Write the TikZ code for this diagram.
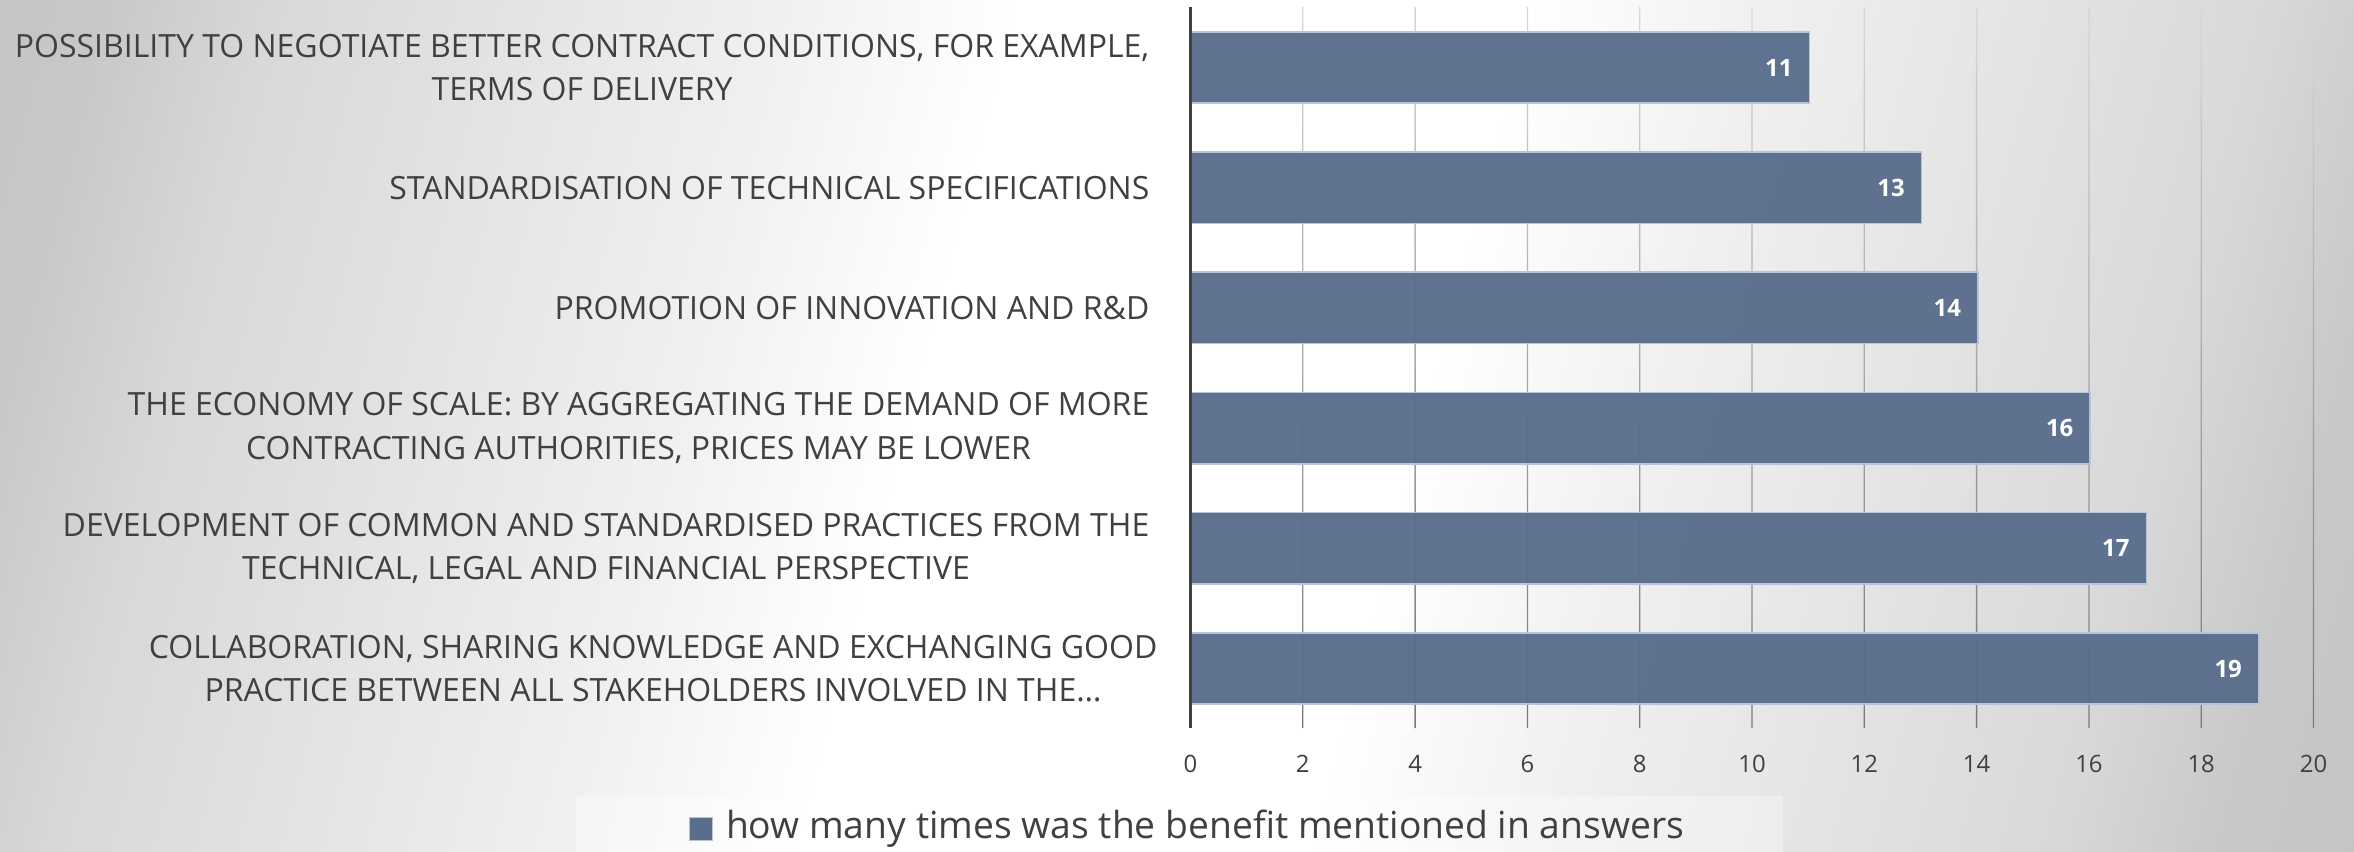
\documentclass[tikz,border=0pt]{standalone}
\usepackage{fontspec}
\setmainfont{Open Sans}
\usetikzlibrary{positioning}
\definecolor{barblue}{RGB}{89,110,140}
\definecolor{barrim}{RGB}{184,196,212}
\definecolor{labgray}{RGB}{64,64,64}
\definecolor{gridtop}{RGB}{215,215,215}
\definecolor{gridbot}{RGB}{120,120,120}
\definecolor{bgA}{gray}{0.94}
\definecolor{bgB}{gray}{0.847}
\definecolor{bgC}{gray}{0.784}
\definecolor{bgD}{gray}{0.77}
\pgfdeclarehorizontalshading{bgband}{100bp}{color(0bp)=(bgD); color(28.3bp)=(bgD); color(30.5bp)=(bgC); color(33.3bp)=(bgB); color(41.7bp)=(bgA); color(45.8bp)=(white); color(54.2bp)=(white); color(58.3bp)=(bgA); color(66.7bp)=(bgB); color(69.5bp)=(bgC); color(71.7bp)=(bgD); color(100bp)=(bgD)}

\begin{document}
\begin{tikzpicture}[x=0.01cm, y=-0.01cm,
    bar/.style={fill=barblue, fill opacity=0.96, draw=barrim, line width=0.45pt, minimum height=0.715cm, inner sep=0, anchor=west},
    barval/.style={text=white, font=\fontsize{6.8}{8}\selectfont\bfseries, inner sep=0},
    catlabel/.style={text=labgray, font=\fontsize{9.1}{12.4}\selectfont, align=center, anchor=east, inner sep=0},
    ticklabel/.style={text=labgray, font=\fontsize{6.8}{8}\selectfont, inner sep=0},
    legendkey/.style={fill=barblue, draw=barrim, line width=0.45pt, minimum size=0.23cm, inner sep=0},
    legtext/.style={text=labgray, font=\fontsize{10.6}{13}\selectfont, inner sep=0}]
    \useasboundingbox (0,0) rectangle (2354,852);
    \begin{scope}
        \clip (0,0) rectangle (2354,852);
        \begin{scope}[transform canvas={xslant=0.26}]
            \shade[shading=bgband] (-225,0) rectangle (2775,852);
        \end{scope}
    \end{scope}
    \fill[white, opacity=0.35] (576,796) rectangle (1783,852);
    
    \shade[top color=gridtop, bottom color=gridbot]
        (1302.15,7) rectangle (1303.45,728) (1414.45,7) rectangle (1415.75,728)
        (1526.75,7) rectangle (1528.05,728) (1639.05,7) rectangle (1640.35,728)
        (1751.35,7) rectangle (1752.65,728) (1863.65,7) rectangle (1864.95,728)
        (1975.95,7) rectangle (1977.25,728) (2088.25,7) rectangle (2089.55,728)
        (2200.55,7) rectangle (2201.85,728) (2312.85,7) rectangle (2314.15,728);
    
    \node[bar, minimum width=6.1765cm] (bar1) at (1190.5,67.5) {};
    \node[bar, minimum width=7.2995cm] (bar2) at (1190.5,187.7) {};
    \node[bar, minimum width=7.861cm] (bar3) at (1190.5,307.9) {};
    \node[bar, minimum width=8.984cm] (bar4) at (1190.5,428.1) {};
    \node[bar, minimum width=9.5455cm] (bar5) at (1190.5,548.3) {};
    \node[bar, minimum width=10.6685cm] (bar6) at (1190.5,668.5) {};
    
    \node[barval, left=0.17cm of bar1.east] (val1) {11};
    \node[barval, left=0.17cm of bar2.east] (val2) {13};
    \node[barval, left=0.17cm of bar3.east] (val3) {14};
    \node[barval, left=0.17cm of bar4.east] (val4) {16};
    \node[barval, left=0.17cm of bar5.east] (val5) {17};
    \node[barval, left=0.17cm of bar6.east] (val6) {19};
    
    \coordinate (axtop) at (1190.5,7);
    \coordinate (axbot) at (1190.5,728.3);
    \draw[labgray, line width=1.1pt] (axtop) -- (axbot);
    
    \node[catlabel] (cat1) at (1150,67.5) {POSSIBILITY TO NEGOTIATE BETTER CONTRACT CONDITIONS, FOR EXAMPLE,\\TERMS OF DELIVERY};
    \node[catlabel] (cat2) at (1150,187.7) {STANDARDISATION OF TECHNICAL SPECIFICATIONS};
    \node[catlabel] (cat3) at (1150,307.9) {PROMOTION OF INNOVATION AND R\&D};
    \node[catlabel] (cat4) at (1150,428.1) {THE ECONOMY OF SCALE: BY AGGREGATING THE DEMAND OF MORE\\CONTRACTING AUTHORITIES, PRICES MAY BE LOWER};
    \node[catlabel] (cat5) at (1150,548.3) {DEVELOPMENT OF COMMON AND STANDARDISED PRACTICES FROM THE\\TECHNICAL, LEGAL AND FINANCIAL PERSPECTIVE};
    \node[catlabel] (cat6) at (1158,668.5) {COLLABORATION, SHARING KNOWLEDGE AND EXCHANGING GOOD\\PRACTICE BETWEEN ALL STAKEHOLDERS INVOLVED IN THE…};
    
    \path[ticklabel]
        (1190.5,763.5) node (tick0) {0}   (1302.8,763.5) node (tick2) {2}
        (1415.1,763.5) node (tick4) {4}   (1527.4,763.5) node (tick6) {6}
        (1639.7,763.5) node (tick8) {8}   (1752,763.5) node (tick10) {10}
        (1864.3,763.5) node (tick12) {12} (1976.6,763.5) node (tick14) {14}
        (2088.9,763.5) node (tick16) {16} (2201.2,763.5) node (tick18) {18}
        (2313.5,763.5) node (tick20) {20};
    
    \node[legendkey] (key) at (701,829) {};
    \node[legtext, right=0.12cm of key] (legend) {how many times was the benefit mentioned in answers};
\end{tikzpicture}
\end{document}
